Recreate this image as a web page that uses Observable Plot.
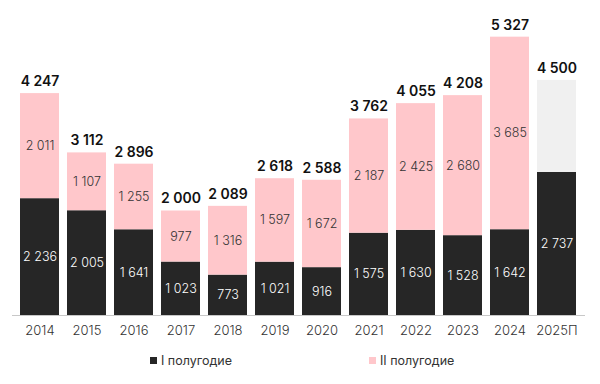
<!DOCTYPE html>
<html><head><meta charset="utf-8">
<script src="https://cdn.jsdelivr.net/npm/d3@7"></script>
<script src="https://cdn.jsdelivr.net/npm/@observablehq/plot@0.6"></script>
<style>
body{margin:0;background:#fff;font-family:Inter,"Noto Sans",sans-serif;}
#wrap{position:relative;width:600px;height:384px;}
.leg{position:absolute;top:353px;font-size:12.5px;color:#333;display:flex;align-items:center;}
.leg i{display:inline-block;width:7px;height:7px;margin-right:4px;}
</style></head>
<body><div id="wrap"><div id="chart"></div>
<div class="leg" style="left:150px"><i style="background:#262626"></i>I полугодие</div>
<div class="leg" style="left:369px"><i style="background:#ffc7cb"></i>II полугодие</div>
</div>
<script>
const years = ["2014","2015","2016","2017","2018","2019","2020","2021","2022","2023","2024","2025П"];
const firstHalf = [2236,2005,1641,1023,773,1021,916,1575,1630,1528,1642,2737];
const secondHalf = [2011,1107,1255,977,1316,1597,1672,2187,2425,2680,3685,null];
const totals = [4247,3112,2896,2000,2089,2618,2588,3762,4055,4208,5327,4500];
const seriesNames = ["I полугодие","II полугодие","прогноз"];

const fmt = d3.formatLocale({thousands:" ",grouping:[3],decimal:","}).format(",d");
const rows = [];
years.forEach((y,i)=>{
  rows.push({year:y, s:seriesNames[0], y1:0, y2:firstHalf[i], v:firstHalf[i]});
  if (secondHalf[i] != null) rows.push({year:y, s:seriesNames[1], y1:firstHalf[i], y2:firstHalf[i]+secondHalf[i], v:secondHalf[i]});
  else rows.push({year:y, s:seriesNames[2], y1:firstHalf[i], y2:totals[i], v:null});
});
const tot = years.map((y,i)=>({year:y, t:totals[i]}));
const labeled = rows.filter(d=>d.v!=null);

const chart = Plot.plot({
  width:600, height:345,
  marginLeft:12, marginRight:15, marginTop:20, marginBottom:30,
  style:{fontFamily:"Inter, 'Noto Sans', sans-serif", background:"#fff"},
  x:{domain:years, paddingInner:0.17, paddingOuter:0.085, label:null, tickSize:0, tickPadding:10},
  y:{domain:[0,5646], axis:null},
  color:{domain:seriesNames, range:["#262626","#ffc7cb","#f0f0f0"]},
  marks:[
    Plot.rectY(rows,{x:"year", y1:"y1", y2:"y2", fill:"s"}),
    Plot.ruleY([0],{stroke:"#c8c8c8", strokeWidth:1}),
    Plot.text(labeled,{x:"year", y:d=>(d.y1+d.y2)/2, text:d=>fmt(d.v), fill:d=>d.s===seriesNames[0]?"#fff":"#333", fontSize:12.5, fontWeight:300}),
    Plot.text(tot,{x:"year", y:"t", text:d=>fmt(d.t), dy:-12, fontSize:14, fontWeight:600, fill:"#111"}),
    Plot.axisX({tickSize:0, tickPadding:10, fontSize:13, fontWeight:300, color:"#333", label:null})
  ]
});
document.getElementById("chart").appendChild(chart);
</script></body></html>
